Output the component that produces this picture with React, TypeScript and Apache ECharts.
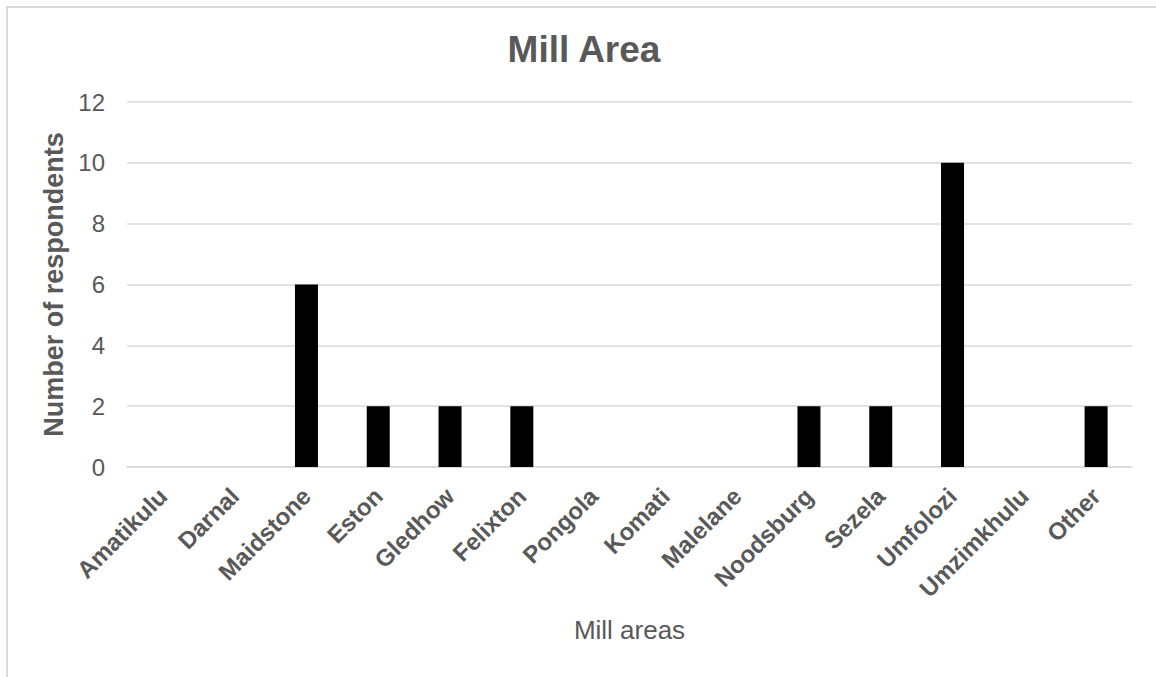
import React, { useEffect, useRef } from "react";
import * as echarts from "echarts";

const categories = [
  "Amatikulu", "Darnal", "Maidstone", "Eston", "Gledhow", "Felixton", "Pongola",
  "Komati", "Malelane", "Noodsburg", "Sezela", "Umfolozi", "Umzimkhulu", "Other",
];
const respondents = [0, 0, 6, 2, 2, 2, 0, 0, 0, 2, 2, 10, 0, 2];
const yMin = 0;
const yMax = 12;
const yStep = 2;

const FONT = "'Liberation Sans', Arial, sans-serif";
const TEXT = "#595959";
const GRID = "#d9d9d9";

export default function App() {
  const ref = useRef<HTMLDivElement>(null);
  useEffect(() => {
    if (!ref.current) return;
    const chart = echarts.init(ref.current, undefined, { renderer: "svg" });
    chart.setOption({
      animation: false,
      backgroundColor: "#ffffff",
      textStyle: { fontFamily: FONT },
      title: {
        text: "Mill Area",
        left: 579,
        top: 26,
        textAlign: "center",
        textStyle: { fontFamily: FONT, fontSize: 37, fontWeight: "bold", color: TEXT },
      },
      graphic: [
        {
          type: "rect",
          shape: { x: 7, y: 7, width: 1165, height: 700 },
          style: { fill: "none", stroke: GRID, lineWidth: 2 },
          silent: true,
        },
      ],
      grid: { left: 127, right: 24, top: 102, bottom: 210, containLabel: false },
      xAxis: {
        type: "category",
        data: categories,
        name: "Mill areas",
        nameLocation: "middle",
        nameGap: 150,
        nameTextStyle: { fontFamily: FONT, fontSize: 26, color: TEXT },
        axisLine: { show: true, lineStyle: { color: GRID, width: 1.5 } },
        axisTick: { show: false },
        axisLabel: {
          interval: 0,
          rotate: 45,
          margin: 25,
          fontFamily: FONT,
          fontSize: 24,
          fontWeight: "bold",
          color: TEXT,
        },
      },
      yAxis: {
        type: "value",
        min: yMin,
        max: yMax,
        interval: yStep,
        name: "Number of respondents",
        nameLocation: "middle",
        nameGap: 55,
        nameRotate: 90,
        nameTextStyle: { fontFamily: FONT, fontSize: 27, fontWeight: "bold", color: TEXT },
        axisLine: { show: false },
        axisTick: { show: false },
        axisLabel: { margin: 22, fontFamily: FONT, fontSize: 24, color: TEXT },
        splitLine: { lineStyle: { color: GRID, width: 1.5 } },
      },
      series: [
        {
          type: "bar",
          data: respondents,
          barWidth: 23,
          itemStyle: { color: "#000000" },
        },
      ],
    });
    return () => chart.dispose();
  }, []);
  return (
    <div
      ref={ref}
      style={{ position: "absolute", left: 0, top: 0, width: 1156, height: 677 }}
    />
  );
}
